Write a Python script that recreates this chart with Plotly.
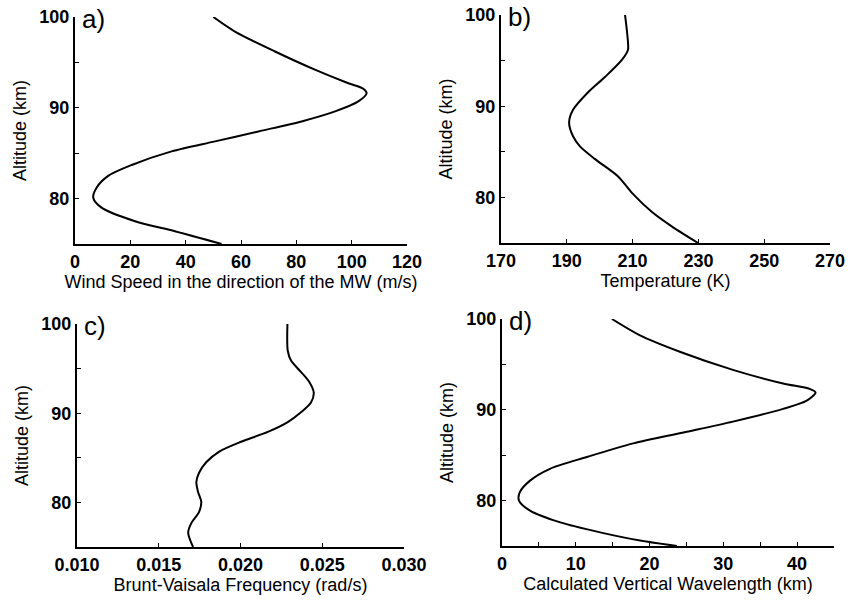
import plotly.graph_objects as go

# ---- data ----
alt_a = [100, 98.4, 96.2, 94.2, 92.7, 92.1, 91.6, 90.7, 89.6, 88.5, 87.4, 86.3, 85.2,
         83.7, 82.5, 81.2, 80.1, 79.0, 77.5, 76.4, 75]
wind = [50, 57.8, 72.3, 86.7, 98.8, 104.2, 105.4, 102.4, 94.0, 81.9, 66.3, 50.6, 34.9,
        20.5, 12.0, 7.8, 6.6, 9.6, 21.7, 36.1, 53]

alt_b = [100, 98.5, 97.0, 96.2, 95.1, 93.2, 91.5, 89.6, 88.2, 86.7, 85.6, 84.2, 82.3,
         80.5, 78.4, 76.8, 75]
temp = [207.7, 208.2, 208.6, 208.6, 206.8, 201.6, 196.4, 191.9, 190.7, 191.9, 194,
        198.6, 205.6, 209.8, 215.9, 222, 229.9]

alt_c = [100, 97.0, 95.9, 94.9, 93.6, 92.3, 91.2, 90.1, 89.0, 87.9, 86.8, 85.7, 84.5,
         83.3, 82.3, 81.2, 80.1, 78.9, 77.7, 76.6, 75]
bvf = [0.02287, 0.02289, 0.02309, 0.02356, 0.02417, 0.02448, 0.02431, 0.0237, 0.02289,
       0.02167, 0.02004, 0.0187, 0.0179, 0.01746, 0.0173, 0.0174, 0.0176, 0.01746,
       0.0170, 0.0168, 0.0171]

alt_d = [100, 98.2, 96.4, 94.4, 92.9, 92.3, 91.9, 91.0, 90.1, 88.7, 87.5, 86.3, 84.8,
         83.5, 82.2, 80.9, 80.0, 78.9, 77.6, 76.5, 75.6, 75]
wavelen = [14.9, 18.7, 24.1, 31.3, 38.1, 41.7, 42.5, 41.3, 38.1, 31.3, 24.6, 17.8, 11.5,
           6.5, 3.8, 2.4, 2.3, 3.8, 7.9, 13.3, 18.7, 23.7]

y_tickvals = [75, 80, 85, 90, 95, 100]
y_ticktext = ["", "80", "", "90", "", "100"]

panels = [
    dict(x=wind, y=alt_a, label="a)", xtitle="Wind Speed in the direction of the MW (m/s)",
         xrange=[0, 120], xtickvals=[0, 20, 40, 60, 80, 100, 120],
         xticktext=["0", "20", "40", "60", "80", "100", "120"]),
    dict(x=temp, y=alt_b, label="b)", xtitle="Temperature (K)",
         xrange=[170, 270], xtickvals=[170, 190, 210, 230, 250, 270],
         xticktext=["170", "190", "210", "230", "250", "270"]),
    dict(x=bvf, y=alt_c, label="c)", xtitle="Brunt-Vaisala Frequency (rad/s)",
         xrange=[0.010, 0.030], xtickvals=[0.010, 0.015, 0.020, 0.025, 0.030],
         xticktext=["0.010", "0.015", "0.020", "0.025", "0.030"]),
    dict(x=wavelen, y=alt_d, label="d)", xtitle="Calculated Vertical Wavelength (km)",
         xrange=[0, 45], xtickvals=[0, 5, 10, 15, 20, 25, 30, 35, 40, 45],
         xticktext=["0", "", "10", "", "20", "", "30", "", "40", ""]),
]

W, H = 850, 600
# pixel boxes (left, right, top, bottom)
boxes = [(75, 407, 17, 244), (501, 830, 15, 243), (77, 404, 324, 547), (502, 834, 319, 546)]

FONT = "Liberation Sans, Arial, sans-serif"
fig = go.Figure()
layout = dict(width=W, height=H, margin=dict(l=0, r=0, t=0, b=0),
              plot_bgcolor="white", paper_bgcolor="white", showlegend=False,
              font=dict(family=FONT, color="black"))
annotations = []
for i, (p, b) in enumerate(zip(panels, boxes)):
    n = "" if i == 0 else str(i + 1)
    fig.add_trace(go.Scatter(x=p["x"], y=p["y"], mode="lines",
                             line=dict(color="black", width=2, shape="spline", smoothing=0.8),
                             xaxis="x" + n, yaxis="y" + n, hoverinfo="skip"))
    l, r, t, bt = b
    layout["xaxis" + n] = dict(
        domain=[l / W, r / W], anchor="y" + n, range=p["xrange"], automargin=False,
        tickmode="array", tickvals=p["xtickvals"], ticktext=p["xticktext"],
        ticks="inside", ticklen=4, tickwidth=1, tickcolor="black",
        showline=True, linecolor="black", linewidth=2, showgrid=False, zeroline=False,
        tickfont=dict(family=FONT, size=18, color="black", weight="bold"),
        title=dict(text=p["xtitle"], font=dict(family=FONT, size=18, color="black"), standoff=5),
    )
    layout["yaxis" + n] = dict(
        domain=[1 - bt / H, 1 - t / H], anchor="x" + n, range=[75, 100], automargin=False,
        tickmode="array", tickvals=y_tickvals, ticktext=y_ticktext,
        ticks="inside", ticklen=4, tickwidth=1, tickcolor="black",
        showline=True, linecolor="black", linewidth=2, showgrid=False, zeroline=False,
        tickfont=dict(family=FONT, size=18, color="black", weight="bold"),
        title=dict(text="Altitude (km)", font=dict(family=FONT, size=18, color="black"),
                   standoff=8),
    )
    annotations.append(dict(text=p["label"], x=(l + 5) / W, y=1 - (t + 2) / H,
                            xref="paper", yref="paper", xanchor="left", yanchor="middle",
                            showarrow=False, font=dict(family=FONT, size=26, color="black")))
layout["annotations"] = annotations
fig.update_layout(**layout)
fig.write_html("out.html")
